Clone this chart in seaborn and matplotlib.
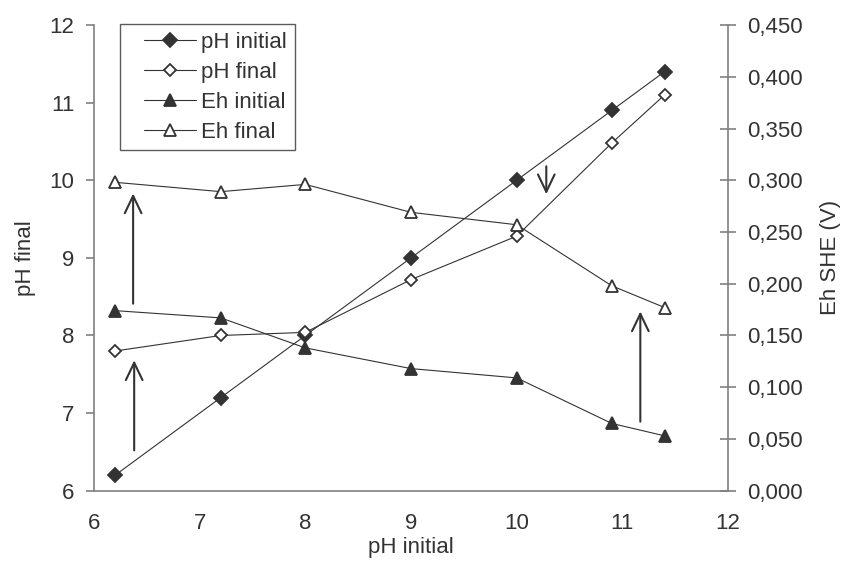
import matplotlib
matplotlib.use("Agg")
import matplotlib.pyplot as plt
import seaborn as sns
import pandas as pd
from matplotlib.ticker import FuncFormatter
from matplotlib.lines import Line2D
from matplotlib.legend_handler import HandlerLine2D

# values
ph_initial = [6.2, 7.2, 8.0, 9.0, 10.0, 10.9, 11.4]
ph_final = [7.8, 8.0, 8.04, 8.72, 9.28, 10.48, 11.1]
eh_initial = [0.174, 0.167, 0.138, 0.118, 0.109, 0.065, 0.053]
eh_final = [0.298, 0.289, 0.296, 0.269, 0.257, 0.198, 0.177]

# arrows: (x, y_start, y_end) in pH units on the left axis
arrows = [(6.37, 8.41, 9.83), (6.38, 6.52, 7.68), (10.28, 10.18, 9.82), (11.17, 6.89, 8.31)]

df = pd.DataFrame({"ph_initial": ph_initial, "ph_final": ph_final,
                   "eh_initial": eh_initial, "eh_final": eh_final})

sns.set_style("white")
plt.rcParams["font.family"] = ["Liberation Sans", "DejaVu Sans"]

ink = "#333333"
grey = "#808080"
fs = 16

fig, ax = plt.subplots(figsize=(8.44, 5.69), dpi=100)
fig.subplots_adjust(left=0.1114, right=0.8626, bottom=0.1376, top=0.956)
ax2 = ax.twinx()

common = dict(color=ink, linewidth=0.8, markeredgewidth=1.3)
sns.lineplot(data=df, x="ph_initial", y="ph_initial", ax=ax, marker="D", markersize=7,
             markerfacecolor=ink, markeredgecolor=ink, label="pH initial", **common)
sns.lineplot(data=df, x="ph_initial", y="ph_final", ax=ax, marker="D", markersize=6.5,
             markerfacecolor="white", markeredgecolor=ink, label="pH final", **common)
sns.lineplot(data=df, x="ph_initial", y="eh_initial", ax=ax2, marker="^", markersize=9,
             markerfacecolor=ink, markeredgecolor=ink, label="Eh initial", **common)
sns.lineplot(data=df, x="ph_initial", y="eh_final", ax=ax2, marker="^", markersize=9,
             markerfacecolor="white", markeredgecolor=ink, label="Eh final", **common)

for x, y0, y1 in arrows:
    ax.annotate("", xy=(x, y1), xytext=(x, y0),
                arrowprops=dict(arrowstyle="->,head_length=1.25,head_width=0.6",
                                color=ink, lw=1.5, shrinkA=0, shrinkB=0))

ax.set_xlim(6, 12)
ax.set_ylim(6, 12)
ax2.set_ylim(0, 0.45)
ax.set_xticks(range(6, 13))
ax.set_yticks(range(6, 13))
ax2.set_yticks([i * 0.05 for i in range(10)])
ax2.yaxis.set_major_formatter(FuncFormatter(lambda v, p: f"{v:.3f}".replace(".", ",")))

ax.set_xlabel("pH initial", fontsize=fs, color=ink, labelpad=2)
ax.set_ylabel("pH final", fontsize=fs, color=ink, labelpad=10)
ax2.set_ylabel("Eh SHE (V)", fontsize=fs, color=ink, labelpad=12)

for a in (ax, ax2):
    a.spines["top"].set_visible(False)
    for s in a.spines.values():
        s.set_color(grey)
        s.set_linewidth(1.2)
ax.spines["right"].set_visible(False)
ax2.spines["left"].set_visible(False)
ax2.spines["bottom"].set_visible(False)

ax.tick_params(axis="both", direction="out", length=6, width=1.2, color=grey,
               labelsize=fs, labelcolor=ink, pad=8)
ax.tick_params(axis="x", pad=10)
ax2.tick_params(axis="y", direction="inout", length=12, width=1.2, color=grey,
                labelsize=fs, labelcolor=ink, pad=8)

# one legend for both axes, handles indented like the original
h1, l1 = ax.get_legend_handles_labels()
h2, l2 = ax2.get_legend_handles_labels()
if ax2.get_legend():
    ax2.get_legend().remove()
leg = ax.legend(h1 + h2, l1 + l2, loc="upper left", bbox_to_anchor=(0.041, 1.002),
                fontsize=fs, frameon=True, fancybox=False, handlelength=3.05,
                borderpad=0.35, labelspacing=0.4, handletextpad=0.25, borderaxespad=0,
                handler_map={Line2D: HandlerLine2D(xpad=0.75)})
leg.get_frame().set_edgecolor(ink)
leg.get_frame().set_linewidth(1.0)
for t in leg.get_texts():
    t.set_color(ink)

fig.savefig("out.png", dpi=100)
